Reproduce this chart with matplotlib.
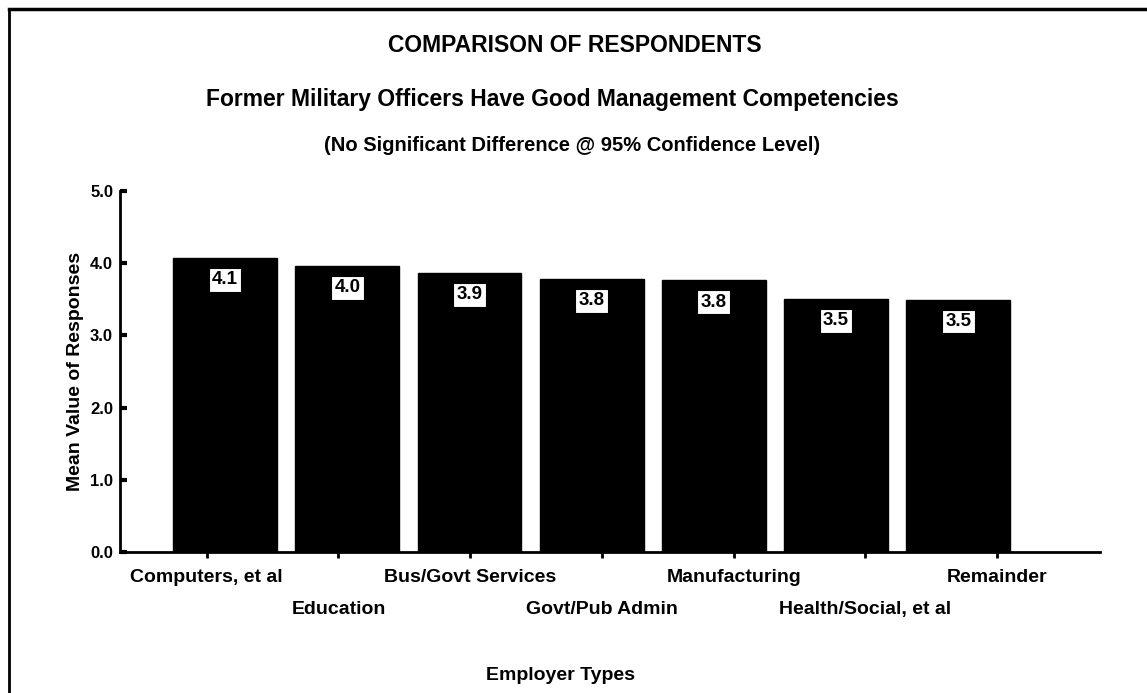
import numpy as np
import matplotlib
matplotlib.use('Agg')
import matplotlib.pyplot as plt
from matplotlib.lines import Line2D

# data
employers = ['Computers, et al', 'Education', 'Bus/Govt Services', 'Govt/Pub Admin',
             'Manufacturing', 'Health/Social, et al', 'Remainder']
mean_values = [4.07, 3.96, 3.86, 3.78, 3.76, 3.50, 3.49]
value_labels = ['4.1', '4.0', '3.9', '3.8', '3.8', '3.5', '3.5']
y_ticks = [0, 1, 2, 3, 4, 5]
y_tick_labels = ['0.0', '1.0', '2.0', '3.0', '4.0', '5.0']

plt.rcParams['font.family'] = ['Liberation Sans', 'DejaVu Sans']

fig = plt.figure(figsize=(11.47, 6.93), dpi=100)
ax = fig.add_axes([0.1046, 0.2035, 0.8544, 0.5210])

x = np.arange(len(employers))
ax.bar(x, mean_values, width=0.85, color='black', edgecolor='black')

for xi, v, lab in zip(x, mean_values, value_labels):
    ax.text(xi, v - 0.30, lab, ha='center', va='center', fontsize=13.5, fontweight='bold',
            bbox=dict(boxstyle='square,pad=0.18', facecolor='white', edgecolor='black', linewidth=0.8))

ax.set_xlim(-0.86, 7.16)
ax.set_ylim(0, 5)
ax.set_yticks(y_ticks)
ax.set_yticklabels(y_tick_labels, fontsize=12, fontweight='bold')

# in the original the category ticks are spread a bit wider than the bars,
# and labels alternate between two rows
tick_pos = x * 1.078 - 0.15
ax.set_xticks(tick_pos[0::2])
ax.set_xticklabels(employers[0::2], fontsize=14, fontweight='bold')
ax.set_xticks(tick_pos[1::2], minor=True)
ax.set_xticklabels(employers[1::2], minor=True, fontsize=14, fontweight='bold')
ax.tick_params(axis='x', which='major', direction='out', length=4, width=2, pad=8)
ax.tick_params(axis='x', which='minor', direction='out', length=4, width=2, pad=31)
ax.tick_params(axis='y', direction='in', length=5, width=3, pad=5)

for s in ['top', 'right']:
    ax.spines[s].set_visible(False)
ax.spines['left'].set_linewidth(2)
ax.spines['bottom'].set_linewidth(2)

ax.set_ylabel('Mean Value of Responses', fontsize=14, fontweight='bold', labelpad=4)

fig.text(0.501, 0.935, 'COMPARISON OF RESPONDENTS', ha='center', va='center',
         fontsize=16.5, fontweight='bold')
fig.text(0.482, 0.856, 'Former Military Officers Have Good Management Competencies',
         ha='center', va='center', fontsize=16.5, fontweight='bold')
fig.text(0.499, 0.790, '(No Significant Difference @ 95% Confidence Level)',
         ha='center', va='center', fontsize=14.5, fontweight='bold')
fig.text(0.489, 0.025, 'Employer Types', ha='center', va='center', fontsize=14, fontweight='bold')

# page frame (left and top edges visible in the scan)
fig.add_artist(Line2D([0.008, 0.008], [0.0, 0.987], transform=fig.transFigure, color='black', lw=2))
fig.add_artist(Line2D([0.008, 1.0], [0.987, 0.987], transform=fig.transFigure, color='black', lw=2.5))

fig.savefig('out.png', dpi=100)
